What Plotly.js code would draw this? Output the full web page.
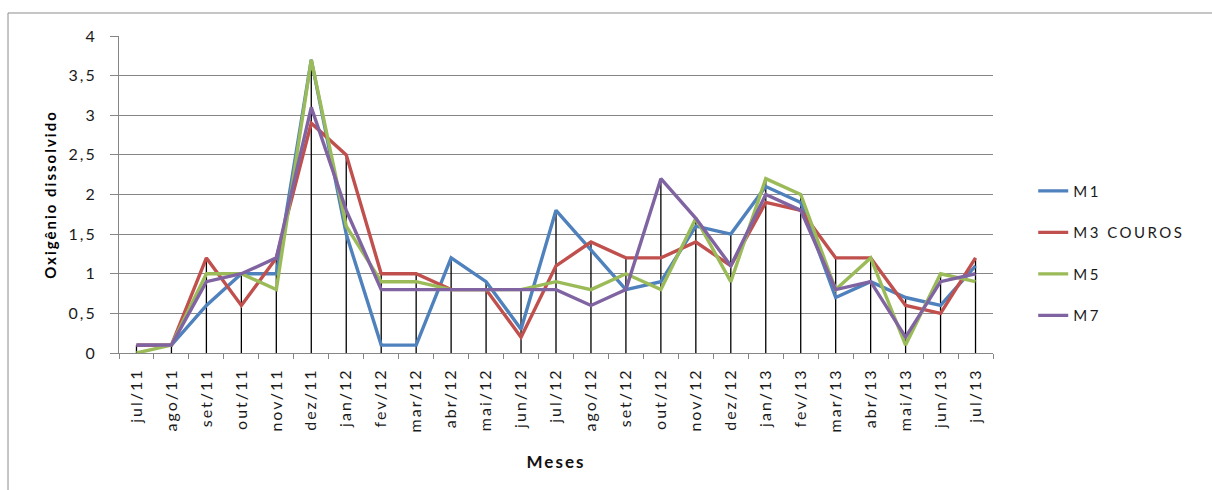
<!DOCTYPE html>
<html>
<head>
<meta charset="utf-8">
<script src="https://cdn.plot.ly/plotly-3.0.1.min.js"></script>
<style>
html,body{margin:0;padding:0;background:#fff;}
#chart{width:1212px;height:490px;}
svg text{letter-spacing:2px;}
svg text.legendtext{letter-spacing:2.5px;}
</style>
</head>
<body>
<div id="chart"></div>
<script>
const months = ["jul/11","ago/11","set/11","out/11","nov/11","dez/11","jan/12","fev/12","mar/12","abr/12","mai/12","jun/12","jul/12","ago/12","set/12","out/12","nov/12","dez/12","jan/13","fev/13","mar/13","abr/13","mai/13","jun/13","jul/13"];
const m1 =        [0.1,0.1,0.6,1.0,1.0,3.7,1.5,0.1,0.1,1.2,0.9,0.3,1.8,1.3,0.8,0.9,1.6,1.5,2.1,1.9,0.7,0.9,0.7,0.6,1.1];
const m3couros =  [0.1,0.1,1.2,0.6,1.2,2.9,2.5,1.0,1.0,0.8,0.8,0.2,1.1,1.4,1.2,1.2,1.4,1.1,1.9,1.8,1.2,1.2,0.6,0.5,1.2];
const m5 =        [0.0,0.1,1.0,1.0,0.8,3.7,1.6,0.9,0.9,0.8,0.8,0.8,0.9,0.8,1.0,0.8,1.7,0.9,2.2,2.0,0.8,1.2,0.1,1.0,0.9];
const m7 =        [0.1,0.1,0.9,1.0,1.2,3.1,1.8,0.8,0.8,0.8,0.8,0.8,0.8,0.6,0.8,2.2,1.7,1.1,2.0,1.8,0.8,0.9,0.2,0.9,1.0];
const seriesNames = ["M1","M3 COUROS","M5","M7"];
const yTicks = [0,0.5,1,1.5,2,2.5,3,3.5,4];

const allSeries = [m1, m3couros, m5, m7];
const colors = ["#4F81BD","#C0504D","#9BBB59","#8064A2"];

// drop lines: from axis to the highest series value at each month
const dropX = [], dropY = [];
months.forEach((m, i) => {
  const mx = Math.max(...allSeries.map(s => s[i]));
  dropX.push(m, m, null);
  dropY.push(0, mx, null);
});

const traces = [{
  x: dropX, y: dropY, type: "scatter", mode: "lines",
  line: {color: "#000", width: 1.3}, showlegend: false, hoverinfo: "skip", connectgaps: false
}];
allSeries.forEach((s, k) => {
  traces.push({
    x: months, y: s, name: seriesNames[k], type: "scatter", mode: "lines",
    line: {color: colors[k], width: 3.4}, legendgroup: "g" + k
  });
});

const font = "Lato, 'Open Sans', sans-serif";
const layout = {
  width: 1212, height: 490,
  margin: {l: 119, r: 219, t: 36, b: 137},
  paper_bgcolor: "#fff", plot_bgcolor: "#fff",
  separators: ",.",
  font: {family: font, size: 15, color: "#1a1a1a"},
  showlegend: true,
  legend: {
    x: 1.046, y: 0.315, xanchor: "left", yanchor: "middle",
    traceorder: "grouped", tracegroupgap: 19,
    font: {family: font, size: 15, color: "#1a1a1a"},
    bgcolor: "rgba(0,0,0,0)"
  },
  xaxis: {
    type: "category", categoryorder: "array", categoryarray: months,
    tickvals: months, ticktext: months,
    tickangle: -90, tickson: "boundaries", ticks: "outside", ticklen: 5, tickcolor: "#868686",
    ticklabelstandoff: 8,
    showline: true, linecolor: "#868686", linewidth: 1, showgrid: false, zeroline: false,
    tickfont: {family: font, size: 16, color: "#1a1a1a"},
    title: {text: "<b>Meses</b>", font: {family: font, size: 17, color: "#111"}, standoff: 24},
    range: [-0.5, months.length - 0.5]
  },
  yaxis: {
    range: [0, 4], tickvals: yTicks,
    ticks: "outside", ticklen: 8, tickcolor: "#868686",
    ticklabelstandoff: 10,
    showline: true, linecolor: "#868686", linewidth: 1,
    showgrid: true, gridcolor: "#868686", gridwidth: 1, zeroline: false,
    tickfont: {family: font, size: 16, color: "#1a1a1a"},
    title: {text: "<b>Oxigênio dissolvido</b>", font: {family: font, size: 15, color: "#000"}, standoff: 8},
  },
  shapes: [{
    type: "rect", xref: "paper", yref: "paper",
    x0: -0.127, x1: 1.4, y0: -0.6, y1: 1.0726,
    line: {color: "#8c8c8c", width: 1}, fillcolor: "rgba(0,0,0,0)", layer: "below"
  }]
};

Plotly.newPlot("chart", traces, layout, {displayModeBar: false, staticPlot: true});
</script>
</body>
</html>
